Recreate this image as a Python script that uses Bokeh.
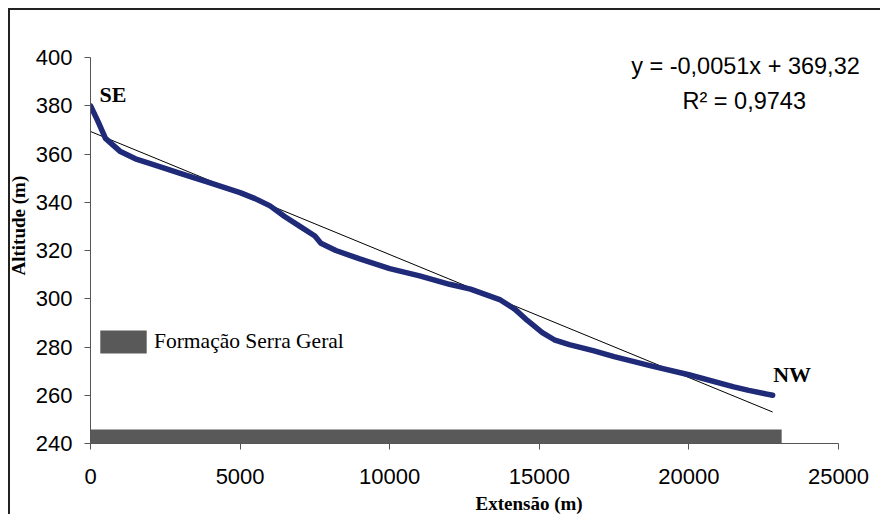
from bokeh.plotting import figure
from bokeh.models import Range1d, FixedTicker, Legend, LegendItem, Label, Title
from bokeh.embed import file_html
from bokeh.resources import INLINE

# ---- data ----
extensao = [0, 250, 500, 1000, 1500, 2000, 3000, 4000, 5000, 5500, 6000, 6500, 7000,
            7500, 7700, 8200, 9000, 10000, 11000, 12000, 12700, 13700, 14200, 14600,
            15100, 15500, 16000, 16800, 17500, 18700, 20000, 21500, 22000, 22800]
altitude = [380, 373.5, 366.5, 361, 358, 356, 352, 348, 344, 341.5, 338.5, 334, 330,
            326, 323, 320, 316.5, 312.5, 309.5, 306, 304, 299.5, 295.5, 291,
            286, 283, 281, 278.5, 276, 272.3, 268.5, 263.5, 262, 260]

trend_slope = -0.0051
trend_intercept = 369.32
trend_x = [0, 22800]
trend_y = [trend_intercept + trend_slope * v for v in trend_x]

formacao_x = [0, 23100]
formacao_y = [240, 245.8]

x_ticks = [0, 5000, 10000, 15000, 20000, 25000]
y_ticks = [240, 260, 280, 300, 320, 340, 360, 380, 400]

eq_text = "y = -0,0051x + 369,32"
r2_text = "R² = 0,9743"

SANS = "Liberation Sans"
SERIF = "Liberation Serif"

# layout (pixels) - the chart box continues past the window edges, as in the reference
W, H = 885, 525
LEFT, TOP = 87, 54
FRAME_W_AXIS = 748           # pixels spanned by 0..25000
FRAME_W = W - LEFT - 1       # frame extends to the right edge (text overflows axis end)
FRAME_H = 386
x_end = 25000 * FRAME_W / FRAME_W_AXIS

p = figure(width=W, height=H, output_backend="svg", toolbar_location=None,
           x_range=Range1d(0, x_end), y_range=Range1d(240, 400),
           min_border_left=LEFT, min_border_right=1, min_border_top=TOP,
           min_border_bottom=H - TOP - FRAME_H)
# chart-box border (left and top edges) painted behind the transparent canvas border area
p.styles = {"position": "fixed", "left": "3px", "top": "3px",
            "background-color": "white",
            "background-image": "linear-gradient(#222222, #222222), linear-gradient(#222222, #222222)",
            "background-size": "2px 100%, 100% 2px",
            "background-position": "5px 5px, 5px 5px",
            "background-repeat": "no-repeat"}

p.xgrid.visible = False
p.ygrid.visible = False
p.outline_line_color = None
p.background_fill_color = "white"
p.border_fill_alpha = 0

for ax in (p.xaxis[0], p.yaxis[0]):
    ax.axis_line_color = "#555555"
    ax.major_tick_line_color = "#555555"
    ax.major_tick_out = 6
    ax.major_tick_in = 0
    ax.minor_tick_line_color = None
    ax.major_label_text_font = SANS
    ax.major_label_text_font_size = "22px"
    ax.major_label_text_color = "black"
p.xaxis[0].ticker = FixedTicker(ticks=x_ticks)
p.xaxis[0].bounds = (0, 25000)
p.yaxis[0].ticker = FixedTicker(ticks=y_ticks)
p.xaxis[0].major_label_standoff = 19
p.yaxis[0].major_label_standoff = 12

# formation bar
bar = p.quad(left=[formacao_x[0]], right=[formacao_x[1]], bottom=[formacao_y[0]], top=[formacao_y[1]],
             fill_color="#595959", line_color=None)

# regression line
p.line(trend_x, trend_y, line_color="black", line_width=1)

# profile
p.line(extensao, altitude, line_color="#1f2b78", line_width=5.5, line_join="round", line_cap="round")

legend = Legend(items=[LegendItem(label="Formação Serra Geral", renderers=[bar])],
                location=(4, 87), orientation="vertical",
                glyph_width=58, glyph_height=29, label_standoff=2,
                padding=0, margin=0, spacing=0,
                background_fill_alpha=0, border_line_color=None,
                label_text_font=SERIF, label_text_font_size="21.5px", label_text_color="black")
p.add_layout(legend, "center")

p.add_layout(Label(x=752, y=384.6, text="SE", text_font=SERIF, text_font_style="bold",
                   text_font_size="22px", text_align="center", text_baseline="middle",
                   text_color="black"))
p.add_layout(Label(x=23450, y=268.6, text="NW", text_font=SERIF, text_font_style="bold",
                   text_font_size="22px", text_align="center", text_baseline="middle",
                   text_color="black"))
p.add_layout(Label(x=21890, y=396.3, text=eq_text, text_font=SANS,
                   text_font_size="23.5px", text_align="center", text_baseline="middle",
                   text_color="black"))
p.add_layout(Label(x=21850, y=382.0, text=r2_text, text_font=SANS,
                   text_font_size="23.5px", text_align="center", text_baseline="middle",
                   text_color="black"))

p.add_layout(Title(text="Extensão (m)", align="left", offset=385, text_font=SERIF,
                   text_font_style="bold", text_font_size="19px", standoff=9,
                   text_color="black"), "below")
p.add_layout(Title(text="Altitude (m)", align="left", offset=168, text_font=SERIF,
                   text_font_style="bold", text_font_size="19px", standoff=4,
                   vertical_align="top", text_color="black"), "left")

open("out.html", "w").write(file_html(p, INLINE))
